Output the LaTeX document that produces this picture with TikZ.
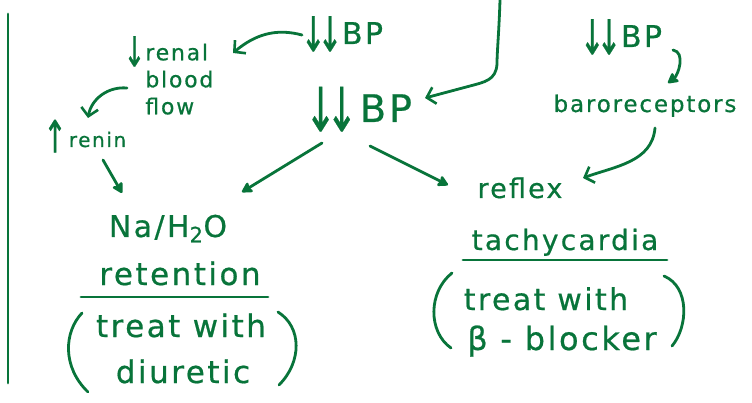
\RequirePackage{fix-cm}
\documentclass[tikz,border=0pt]{standalone}
\usepackage{fontspec}
\usepackage{graphicx}
\newfontfamily\hand[LetterSpace=8,FakeBold=0.6]{DejaVu Sans}
\usetikzlibrary{arrows.meta}
\definecolor{ink}{RGB}{8,116,58}
\newcommand\handsz[1]{\fontsize{#1}{#1}\selectfont}
% tall narrow arrows taken from the text font
\newcommand\dnar{\kern-0.14em\raisebox{-0.24em}{\scalebox{1}[1.6]{↓}}\kern-0.14em}
\newcommand\upar{\kern-0.14em\raisebox{-0.2em}{\scalebox{1}[1.6]{↑}}\kern-0.14em}

\begin{document}
\begin{tikzpicture}[x=1pt,y=1pt,
  every node/.style={inner sep=0pt, text=ink},
  word/.style={font=\hand\handsz{#1}, anchor=base},
  pen/.style={draw=ink, line width=2.8pt, line cap=round, line join=round},
  barb/.style={pen, -{Straight Barb[length=8pt,width=17pt,line width=2.6pt]}},
  solidtip/.style={pen, -{Stealth[length=12pt,width=13pt,inset=2pt,round]}}]

\useasboundingbox (0,0) rectangle (752,402);
\fill[white] (0,0) rectangle (752,402);

% margin rule
\draw[pen] (8,388) -- (8,19);

% labels
\node[word=30] (topbp) at (344,358) {\dnar\dnar\kern0.12em BP};
\node[word=38] (bigbp) at (361,280) {\dnar\dnar\kern0.2em BP};
\node[word=30] (rightbp) at (623,355) {\dnar\dnar\kern0.12em BP};
\node[word=23] (baro) at (645,290) {baroreceptors};
\node[font=\hand\fontsize{22}{27}\selectfont, align=left, anchor=north west] (renal) at (127,366)
  {{\handsz{26}\dnar}\,renal\\\hphantom{{\handsz{26}\dnar}\,}blood\\\hphantom{{\handsz{26}\dnar}\,}flow};
\node[word=20, anchor=base west] (renin) at (47,255) {{\handsz{28}\upar}\kern0.3em renin};
\node[word=30] (natwo) at (168,165) {Na/H\textsubscript{2}O};
\node[word=31] (reten) at (180,117) {retention};
\node[word=31] (treatL) at (181,65) {treat with};
\node[word=31] (diur) at (183,19) {diuretic};
\node[word=27] (reflex) at (520,204) {reflex};
\node[word=28] (tachy) at (565,152) {tachycardia};
\node[word=30] (treatR) at (546,92) {treat with};
\node[word=32] (bblock) at (562,52) {β - blocker};

% rules under the two effects
\draw[pen] (81,105) -- (268,105);
\draw[pen] (463,142) -- (667,142);

% brackets round the treatments
\draw[pen] (82,89) .. controls (64,70) and (62,35) .. (88,10);
\draw[pen] (278,90) .. controls (302,75) and (302,40) .. (279,17);
\draw[pen] (452,129) .. controls (428,110) and (428,70) .. (451,54);
\draw[pen] (664,126) .. controls (690,115) and (688,75) .. (672,56);

% connectors
\coordinate (feed) at (500,402);
\draw[barb] (feed) .. controls (499,370) and (497,350) .. (497,338)
  .. controls (496,322) and (485,320) .. (470,316) -- ([shift={(64,24)}]bigbp.base);
\draw[barb] ([shift={(-42,9)}]topbp.base) to[out=165,in=40] ([shift={(106,-17)}]renal.north west);
\draw[barb] ([shift={(0,-52)}]renal.north west) to[out=175,in=80] ([shift={(41,29)}]renin.base west);
\draw[solidtip] ([shift={(56,-13)}]renin.base west) -- ([shift={(-46,44)}]natwo.base);
\draw[solidtip] ([shift={(-39,-21)}]bigbp.base) -- ([shift={(74,45)}]natwo.base);
\draw[solidtip] ([shift={(9,-24)}]bigbp.base) -- ([shift={(-72,13)}]reflex.base);
\draw[solidtip] ([shift={(50,-3)}]rightbp.base) to[out=-10,in=38] ([shift={(23,29)}]baro.base);
\draw[barb] ([shift={(10,-16)}]baro.base) to[out=-95,in=20] ([shift={(63,20)}]reflex.base);
\end{tikzpicture}
\end{document}
